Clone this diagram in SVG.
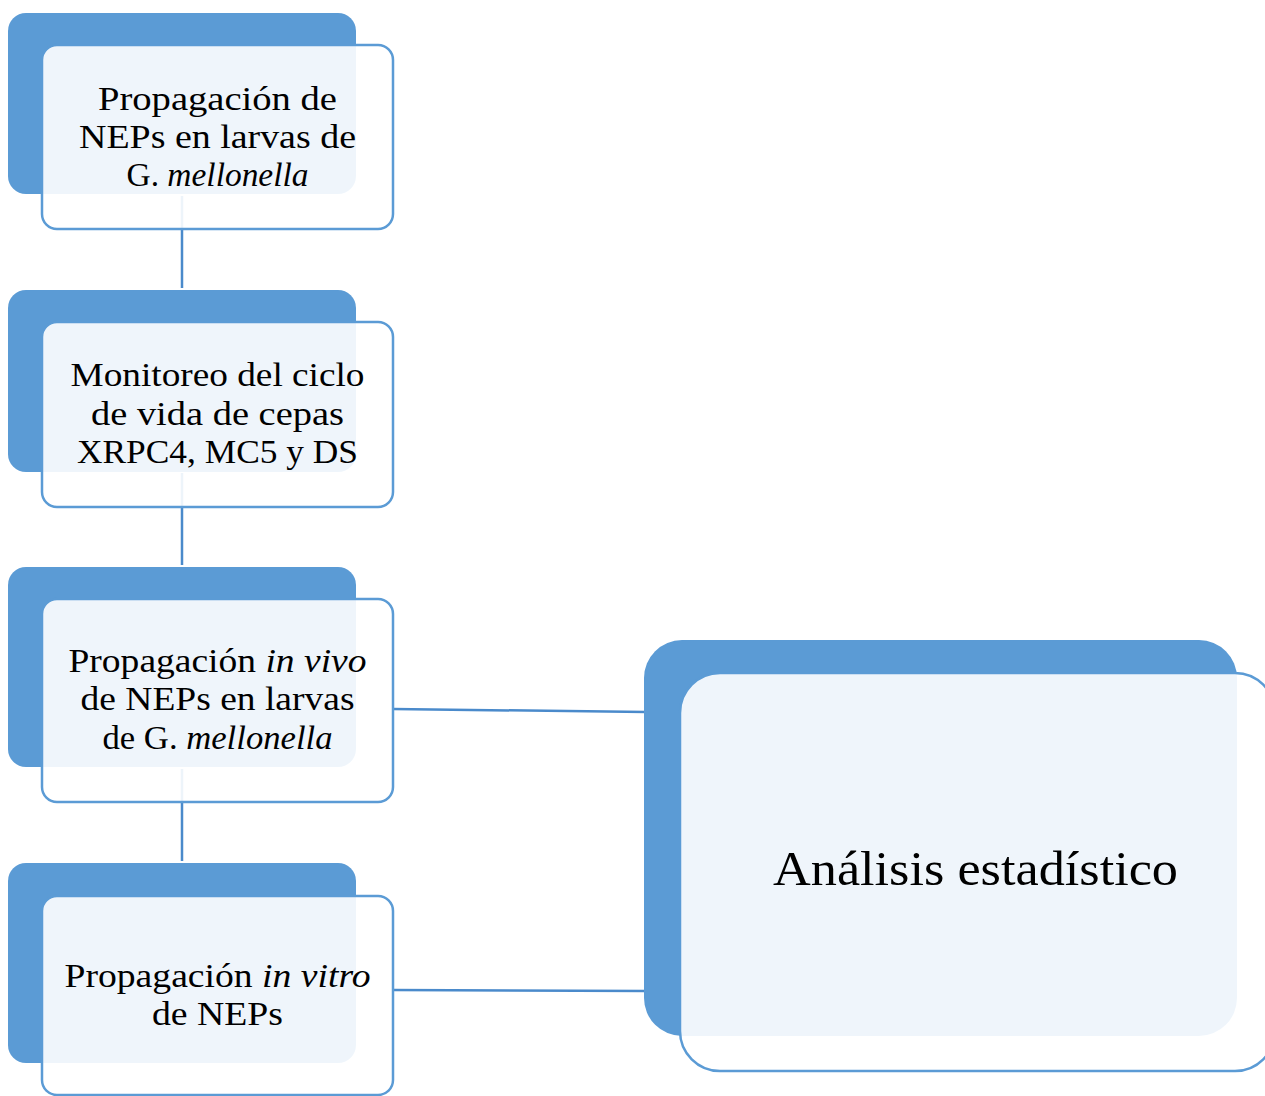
<svg xmlns="http://www.w3.org/2000/svg" width="1265" height="1096" viewBox="0 0 1265 1096">
<style>
.back{fill:#5B9BD5;}
.front{fill:#ffffff;fill-opacity:0.9;stroke:#5B9BD5;stroke-width:2.5;}
.conn{stroke:#4A8ACB;stroke-width:2.5;fill:none;}
.t{font-family:"Liberation Serif","Times New Roman",serif;font-size:33px;fill:#000;text-anchor:middle;}
.big{font-family:"Liberation Serif","Times New Roman",serif;font-size:48px;fill:#000;text-anchor:middle;}
.i{font-style:italic;}
</style>
<rect width="1265" height="1096" fill="#ffffff"/>
<g id="connectors">
<line class="conn" x1="182" y1="196" x2="182" y2="288"/>
<line class="conn" x1="182" y1="473" x2="182" y2="565"/>
<line class="conn" x1="182" y1="769" x2="182" y2="861"/>
<line class="conn" x1="393" y1="709" x2="646" y2="712"/>
<line class="conn" x1="393" y1="990" x2="646" y2="991"/>
</g>
<g id="node1">
<rect class="back" x="8" y="13" width="348" height="181" rx="18"/>
<rect class="front" x="42" y="45" width="351" height="184" rx="15"/>
<text class="t" x="217.5" y="110" textLength="239" lengthAdjust="spacingAndGlyphs">Propagación de</text>
<text class="t" x="217.5" y="148" textLength="277" lengthAdjust="spacingAndGlyphs">NEPs en larvas de</text>
<text class="t" x="217.5" y="186" textLength="182" lengthAdjust="spacingAndGlyphs">G. <tspan class="i">mellonella</tspan></text>
</g>
<g id="node2">
<rect class="back" x="8" y="290" width="348" height="182" rx="18"/>
<rect class="front" x="42" y="322" width="351" height="185" rx="15"/>
<text class="t" x="217.5" y="386" textLength="294" lengthAdjust="spacingAndGlyphs">Monitoreo del ciclo</text>
<text class="t" x="217.5" y="425" textLength="253" lengthAdjust="spacingAndGlyphs">de vida de cepas</text>
<text class="t" x="217.5" y="463" textLength="281" lengthAdjust="spacingAndGlyphs">XRPC4, MC5 y DS</text>
</g>
<g id="node3">
<rect class="back" x="8" y="567" width="348" height="200" rx="18"/>
<rect class="front" x="42" y="599" width="351" height="203" rx="15"/>
<text class="t" x="217.5" y="672" textLength="298" lengthAdjust="spacingAndGlyphs">Propagación <tspan class="i">in vivo</tspan></text>
<text class="t" x="217.5" y="710" textLength="274" lengthAdjust="spacingAndGlyphs">de NEPs en larvas</text>
<text class="t" x="217.5" y="749" textLength="230" lengthAdjust="spacingAndGlyphs">de G. <tspan class="i">mellonella</tspan></text>
</g>
<g id="node4">
<rect class="back" x="8" y="863" width="348" height="200" rx="18"/>
<rect class="front" x="42" y="896" width="351" height="199" rx="15"/>
<text class="t" x="217.5" y="987" textLength="306" lengthAdjust="spacingAndGlyphs">Propagación <tspan class="i">in vitro</tspan></text>
<text class="t" x="217.5" y="1025" textLength="131" lengthAdjust="spacingAndGlyphs">de NEPs</text>
</g>
<g id="node5">
<rect class="back" x="644" y="640" width="593" height="396" rx="38"/>
<rect class="front" x="680" y="673" width="595" height="398" rx="40"/>
<text class="big" x="975.5" y="885" textLength="405" lengthAdjust="spacingAndGlyphs">Análisis estadístico</text>
</g>
</svg>
